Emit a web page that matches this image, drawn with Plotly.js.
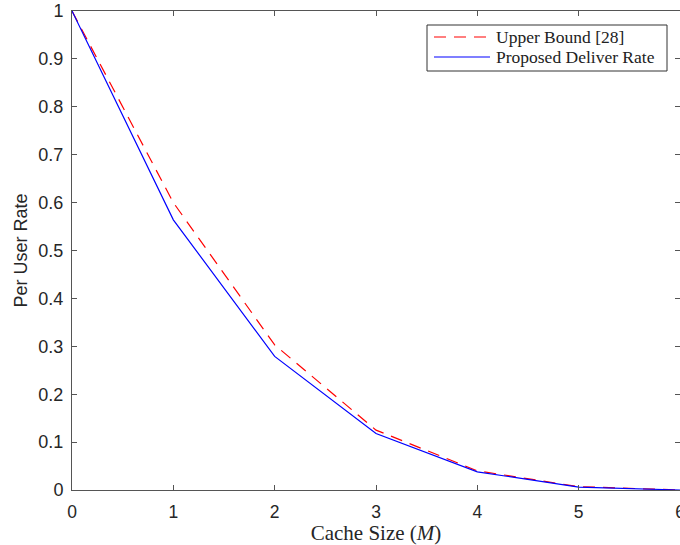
<!DOCTYPE html>
<html>
<head>
<meta charset="utf-8">
<script src="https://cdn.plot.ly/plotly-3.0.1.min.js"></script>
<style>html,body{margin:0;padding:0;background:#fff;}#chart{width:680px;height:545px;}</style>
</head>
<body>
<div id="chart"></div>
<script>
var cacheSize = [0, 1, 2, 3, 4, 5, 6];
var upperBound = [1, 0.60, 0.303, 0.125, 0.04, 0.007, 0];
var proposedRate = [1, 0.564, 0.279, 0.118, 0.038, 0.006, 0];
var seriesNames = ["Upper Bound [28]", "Proposed Deliver Rate"];
var xTicks = [0, 1, 2, 3, 4, 5, 6];
var yTicks = [0, 0.1, 0.2, 0.3, 0.4, 0.5, 0.6, 0.7, 0.8, 0.9, 1];
var yTickLabels = ["0", "0.1", "0.2", "0.3", "0.4", "0.5", "0.6", "0.7", "0.8", "0.9", "1"];

var axisColor = "#555555";
var colors = ["#ff0000", "#0000ff"];
var dashes = ["12px,8px", "solid"];

// plot-area geometry (pixels) to convert legend placement into paper coords
var L = 72, R = 680, T = 11, B = 490;
function px(x) { return (x - L) / (R - L); }
function py(y) { return (B - y) / (B - T); }

var traces = [
  {x: cacheSize, y: upperBound, type: "scatter", mode: "lines", name: seriesNames[0],
   line: {color: colors[0], width: 1.2, dash: dashes[0]}},
  {x: cacheSize, y: proposedRate, type: "scatter", mode: "lines", name: seriesNames[1],
   line: {color: colors[1], width: 1.2, dash: dashes[1]}}
];

var shapes = [{type: "rect", xref: "paper", yref: "paper",
  x0: px(427), x1: px(667), y0: py(71), y1: py(25),
  fillcolor: "#fff", line: {color: "#333", width: 1}, layer: "above"}];
var annotations = [];
var rowY = [37, 57];
for (var i = 0; i < seriesNames.length; i++) {
  shapes.push({type: "line", xref: "paper", yref: "paper",
    x0: px(434), x1: px(490), y0: py(rowY[i]), y1: py(rowY[i]),
    line: {color: colors[i], width: 1.2, dash: dashes[i]}, layer: "above"});
  annotations.push({xref: "paper", yref: "paper", x: px(494), y: py(rowY[i]),
    xanchor: "left", yanchor: "middle", showarrow: false, text: seriesNames[i],
    font: {family: "Liberation Serif, DejaVu Serif, serif", size: 17.5, color: "#222"}});
}

var layout = {
  width: 680, height: 545,
  margin: {l: L, r: 680 - R, t: T, b: 545 - B},
  paper_bgcolor: "#fff", plot_bgcolor: "#fff",
  showlegend: false,
  shapes: shapes,
  annotations: annotations,
  xaxis: {range: [0, 6], tickvals: xTicks, showgrid: false, zeroline: false,
    showline: true, linecolor: axisColor, linewidth: 1, mirror: "ticks",
    ticks: "inside", ticklen: 5, tickcolor: axisColor,
    ticklabeloverflow: "allow", ticklabelstandoff: 6,
    tickfont: {family: "Liberation Sans, Arial, sans-serif", size: 17.5, color: "#262626"},
    title: {text: "Cache Size (<i>M</i>)", standoff: 6,
      font: {family: "Liberation Serif, DejaVu Serif, serif", size: 21, color: "#262626"}}},
  yaxis: {range: [0, 1], tickvals: yTicks, ticktext: yTickLabels, showgrid: false, zeroline: false,
    showline: true, linecolor: axisColor, linewidth: 1, mirror: "ticks",
    ticks: "inside", ticklen: 5, tickcolor: axisColor,
    ticklabelstandoff: 4,
    tickfont: {family: "Liberation Sans, Arial, sans-serif", size: 18, color: "#262626"},
    title: {text: "Per User Rate", standoff: 6,
      font: {family: "Liberation Sans, Arial, sans-serif", size: 18, color: "#262626"}}}
};
Plotly.newPlot("chart", traces, layout, {displayModeBar: false, staticPlot: true});
</script>
</body>
</html>
